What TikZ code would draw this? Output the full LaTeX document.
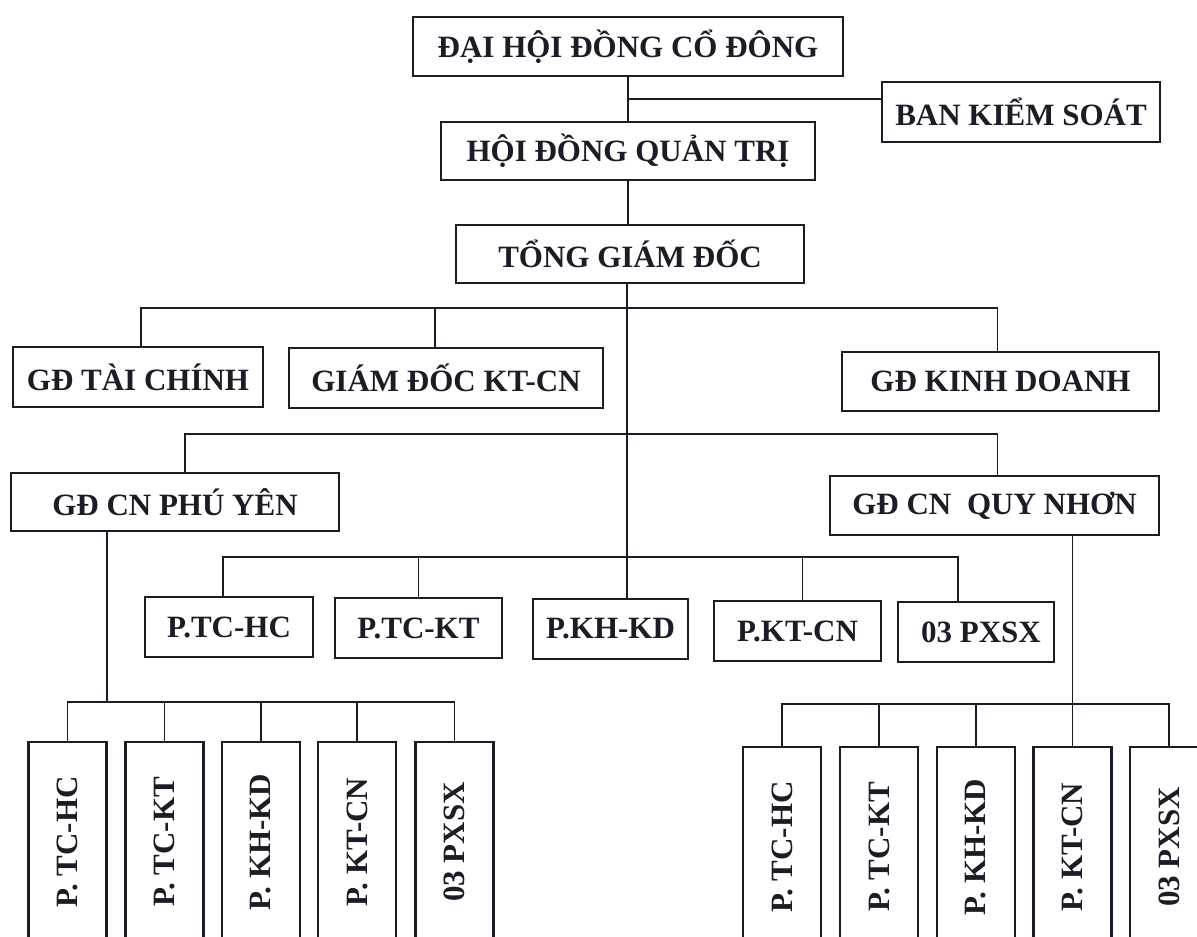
\documentclass[tikz,border=0pt]{standalone}
\usepackage{fontspec}
\setmainfont{Liberation Serif}
\usetikzlibrary{calc}
\definecolor{ink}{RGB}{28,28,38}
\tikzset{
  orgbox/.style={draw=ink, line width=2.2pt, inner sep=0pt, text=ink,
    font=\bfseries\fontsize{31}{31}\selectfont},
  vbox/.style={orgbox, minimum width=78pt, minimum height=200pt},
  conn/.style={draw=ink, line width=1.8pt}
}
\begin{document}
\begin{tikzpicture}[x=1pt,y=-1pt]
\useasboundingbox[fill=white] (0,0) rectangle (1197,937);
\clip (0,0) rectangle (1197,937);

% top levels
\node[orgbox, minimum width=430pt, minimum height=59pt] (dh) at (628,46.5) {ĐẠI HỘI ĐỒNG CỔ ĐÔNG};
\node[orgbox, minimum width=278pt, minimum height=60pt] (bks) at (1021,112) {BAN KIỂM SOÁT};
\node[orgbox, minimum width=374pt, minimum height=58pt] (hdqt) at (628,151) {HỘI ĐỒNG QUẢN TRỊ};
\node[orgbox, minimum width=348pt, minimum height=58pt] (tgd) at (630,254) {TỔNG GIÁM ĐỐC};

% directors
\node[orgbox, minimum width=250pt, minimum height=60pt] (gdtc) at (138,377) {GĐ TÀI CHÍNH};
\node[orgbox, minimum width=314pt, minimum height=60pt] (gdkt) at (446,378) {GIÁM ĐỐC KT-CN};
\node[orgbox, minimum width=317pt, minimum height=59pt] (gdkd) at (1000.5,381.5) {GĐ KINH DOANH};
\node[orgbox, minimum width=328pt, minimum height=58pt] (py) at (175,502) {GĐ CN PHÚ YÊN\hspace{12pt}};
\node[orgbox, minimum width=329pt, minimum height=59pt] (qn) at (994.5,505.5) {GĐ CN\hspace{8pt} QUY NHƠN};

% departments
\node[orgbox, minimum width=168pt, minimum height=60pt] (p1) at (229,627) {P.TC-HC};
\node[orgbox, minimum width=167pt, minimum height=60pt] (p2) at (418.5,628) {P.TC-KT};
\node[orgbox, minimum width=155pt, minimum height=60pt] (p3) at (610.5,629) {P.KH-KD};
\node[orgbox, minimum width=167pt, minimum height=60pt] (p4) at (797.5,631) {P.KT-CN};
\node[orgbox, minimum width=156pt, minimum height=60pt] (p5) at (976,632) {\hspace{10pt}03 PXSX};

% Phu Yen branch departments
\node[vbox] (a1) at (67.5,842) {\rotatebox{90}{P. TC-HC}};
\node[vbox] (a2) at (164.5,842) {\rotatebox{90}{P. TC-KT}};
\node[vbox] (a3) at (261,842) {\rotatebox{90}{P. KH-KD}};
\node[vbox] (a4) at (357,842) {\rotatebox{90}{P. KT-CN}};
\node[vbox] (a5) at (454.5,842) {\rotatebox{90}{03 PXSX}};

% Quy Nhon branch departments
\node[vbox] (q1) at (782,847) {\rotatebox{90}{P. TC-HC}};
\node[vbox] (q2) at (879,847) {\rotatebox{90}{P. TC-KT}};
\node[vbox] (q3) at (976,847) {\rotatebox{90}{P. KH-KD}};
\node[vbox] (q4) at (1072.5,847) {\rotatebox{90}{P. KT-CN}};
\node[vbox] (q5) at (1169,847) {\rotatebox{90}{03 PXSX}};

% top connectors
\coordinate (jb) at ($(dh.south)!0.5!(hdqt.north)$);
\draw[conn] (dh.south) -- (hdqt.north);
\draw[conn] (jb) -- (jb -| bks.west);
\draw[conn] (hdqt.south) -- (hdqt.south |- tgd.north);
\draw[conn] ([xshift=-3pt]tgd.south) -- ([xshift=-3pt]tgd.south |- p3.north);

% level 1 bus
\coordinate (b1) at ([xshift=-3pt]tgd.south |- 0,308);
\draw[conn] ([xshift=3pt]gdtc.north) |- ([xshift=-3pt]gdkd.north |- b1) -- ([xshift=-3pt]gdkd.north);
\draw[conn] ([xshift=-11pt]gdkt.north |- b1) -- ([xshift=-11pt]gdkt.north);

% level 2 bus
\coordinate (b2) at (b1 |- 0,434);
\draw[conn] ([xshift=10pt]py.north) |- ([xshift=3pt]qn.north |- b2) -- ([xshift=3pt]qn.north);

% level 3 bus
\coordinate (b3) at (b1 |- 0,557);
\draw[conn] ([xshift=-6pt]p1.north) |- ([xshift=-18pt]p5.north |- b3) -- ([xshift=-18pt]p5.north);
\draw[conn] (p2.north |- b3) -- (p2.north);
\draw[conn] ([xshift=5pt]p4.north |- b3) -- ([xshift=5pt]p4.north);

% Phu Yen sub-tree
\coordinate (pyd) at ([xshift=-68pt]py.south);
\coordinate (b4) at (pyd |- 0,702);
\draw[conn] (pyd) -- (b4);
\draw[conn] (a1.north) |- (a5.north |- b4) -- (a5.north);
\foreach \n in {a2,a3,a4}{\draw[conn] (\n.north |- b4) -- (\n.north);}

% Quy Nhon sub-tree
\coordinate (b5) at (q4.north |- 0,704);
\draw[conn] (q4.north |- qn.south) -- (q4.north);
\draw[conn] (q1.north) |- (q5.north |- b5) -- (q5.north);
\foreach \n in {q2,q3}{\draw[conn] (\n.north |- b5) -- (\n.north);}
\end{tikzpicture}
\end{document}
